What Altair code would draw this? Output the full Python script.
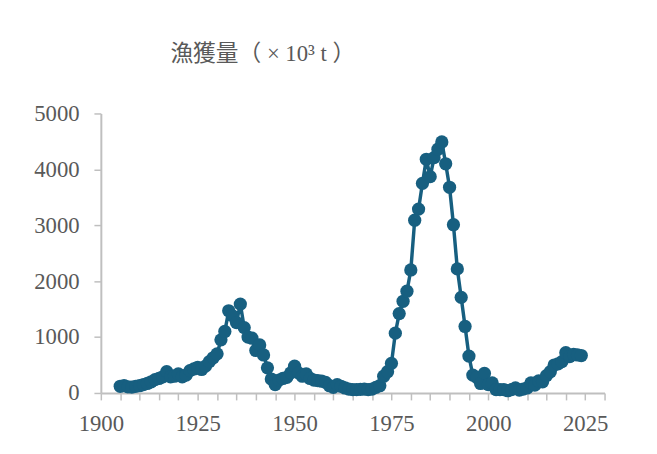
import altair as alt
import pandas as pd

years = list(range(1905, 2025))
catch = [
    120, 130, 110, 105, 120, 130, 150, 170, 200, 240,   # 1905-1914
    260, 290, 380, 290, 300, 340, 290, 320, 400, 430,   # 1915-1924
    460, 420, 480, 560, 630, 700, 950, 1100, 1470, 1380,  # 1925-1934
    1260, 1590, 1170, 1000, 980, 760, 860, 680, 450, 250,  # 1935-1944
    150, 230, 260, 280, 360, 480, 360, 300, 340, 260,   # 1945-1954
    230, 220, 210, 190, 130, 100, 150, 120, 90, 70,     # 1955-1964
    60, 60, 65, 70, 60, 70, 100, 130, 300, 380,         # 1965-1974
    530, 1070, 1420, 1640, 1820, 2200, 3090, 3290, 3750, 4180,  # 1975-1984
    3870, 4210, 4360, 4490, 4100, 3680, 3010, 2220, 1710, 1190,  # 1985-1994
    660, 320, 280, 170, 350, 150, 180, 60, 60, 60,      # 1995-2004
    40, 60, 90, 50, 70, 90, 180, 140, 215, 200,         # 2005-2014
    310, 380, 500, 520, 560, 720, 650, 690, 680, 670,   # 2015-2024
]

x_ticks = list(range(1900, 2031, 5))
y_ticks = [0, 1000, 2000, 3000, 4000, 5000]
title_text = "漁獲量（ × 10³ t ）"

df = pd.DataFrame({"year": years, "catch": catch})

COLOR = "#175f80"
AXIS_GRAY = "#bfbfbf"
TEXT_GRAY = "#595959"
FONT = "Liberation Serif, DejaVu Serif, Noto Sans CJK JP, serif"

x = alt.X(
    "year:Q",
    scale=alt.Scale(domain=[1900, 2030], nice=False, zero=False),
    axis=alt.Axis(
        title=None,
        values=x_ticks,
        labelExpr="datum.value % 25 == 0 ? datum.label : ''",
        format="d",
        grid=False,
        tickSize=7,
        labelPadding=13,
        labelFlush=False,
    ),
)
y = alt.Y(
    "catch:Q",
    scale=alt.Scale(domain=[0, 5000], nice=False),
    axis=alt.Axis(
        title=None,
        values=y_ticks,
        format="d",
        grid=False,
        tickSize=7,
        labelPadding=15,
    ),
)

base = alt.Chart(df)
line = base.mark_line(color=COLOR, strokeWidth=3.5).encode(x=x, y=y)
pts = base.mark_circle(color=COLOR, opacity=1, size=180).encode(x=x, y=y)

chart = (
    alt.layer(line, pts)
    .properties(
        width=510,
        height=283,
        background="white",
        autosize=alt.AutoSizeParams(type="none"),
        padding={"left": 94, "top": 104, "right": 45, "bottom": 59},
        title=alt.TitleParams(
            text=title_text,
            font=FONT,
            fontSize=23,
            fontWeight="normal",
            color=TEXT_GRAY,
            anchor="middle",
            dx=-91,
            offset=37,
        ),
    )
    .configure_view(stroke=None)
    .configure_axis(
        domainColor=AXIS_GRAY,
        domainWidth=2,
        tickColor=AXIS_GRAY,
        tickWidth=1.5,
        labelFont=FONT,
        labelFontSize=23,
        labelColor=TEXT_GRAY,
    )
)

chart.save("out.html", embed_options={"renderer": "svg", "actions": False})
